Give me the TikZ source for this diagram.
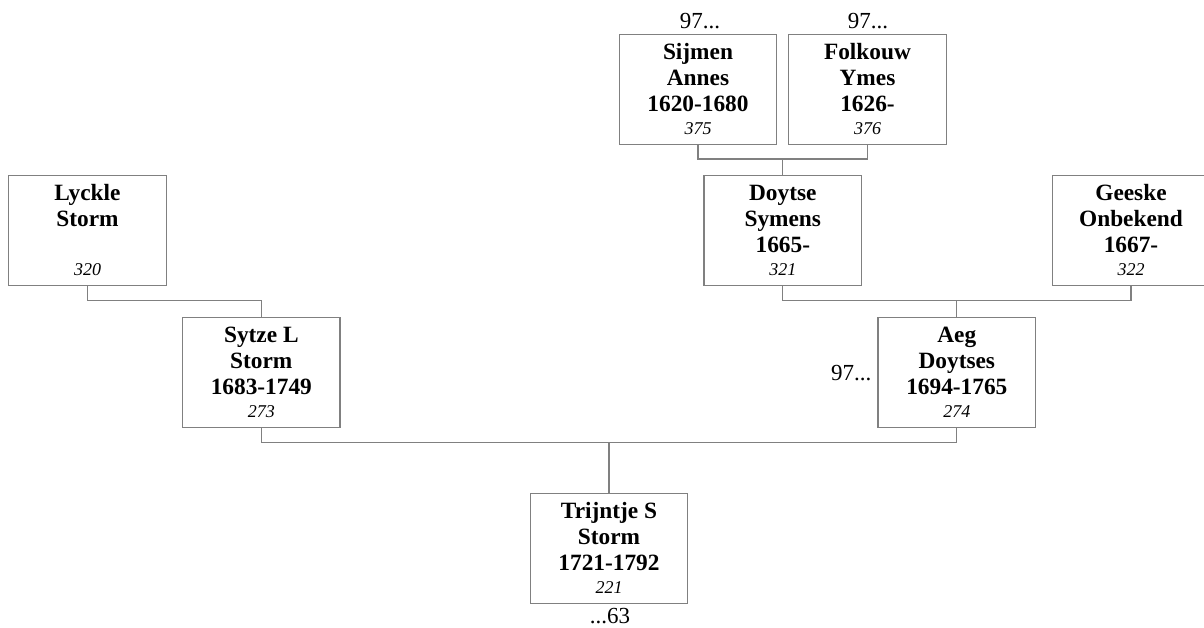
\documentclass[tikz,border=0pt]{standalone}
\usepackage{fontspec}
\setmainfont{Liberation Serif}
\usetikzlibrary{calc}
\definecolor{linegray}{RGB}{128,128,128}
\tikzset{
  personbox/.style={draw=linegray, line width=0.9pt, minimum width=118.1pt, minimum height=82.5pt, inner sep=0pt, anchor=north},
  nameline/.style={anchor=base, inner sep=0pt, font=\fontsize{17.5}{20}\selectfont\bfseries},
  numline/.style={anchor=base, inner sep=0pt, font=\fontsize{13.5}{16}\selectfont\itshape},
  refnum/.style={inner sep=0pt, font=\fontsize{17.25}{20}\selectfont},
  conn/.style={draw=linegray, line width=0.9pt},
}
\newcommand\personbox[7]{%
  \node[personbox] (#1) at (#2,#3) {};
  \node[nameline] (#1-1) at ($(#1.north)+(0,25.6)$) {#4};
  \node[nameline] (#1-2) at ($(#1.north)+(0,51.6)$) {#5};
  \if\relax\detokenize{#6}\relax\else
    \node[nameline] (#1-3) at ($(#1.north)+(0,77.3)$) {#6};
  \fi
  \node[numline] (#1-n) at ($(#1.north)+(0,100.5)$) {#7};
}
\begin{document}
\begin{tikzpicture}[x=0.75pt,y=-0.75pt]
\useasboundingbox (0,0) rectangle (1204,628);
\clip (0,0) rectangle (1204,628);

\personbox{sij}{698}{33.7}{Sijmen}{Annes}{1620-1680}{375}
\personbox{fol}{867.5}{33.7}{Folkouw}{Ymes}{1626-}{376}
\personbox{lyc}{87.5}{175}{Lyckle}{Storm}{}{320}
\personbox{doy}{782.8}{175}{Doytse}{Symens}{1665-}{321}
\personbox{gee}{1131}{175}{Geeske}{Onbekend}{1667-}{322}
\personbox{syt}{261.3}{316.7}{Sytze L}{Storm}{1683-1749}{273}
\personbox{aeg}{956.8}{316.7}{Aeg}{Doytses}{1694-1765}{274}
\personbox{tri}{609}{492.7}{Trijntje S}{Storm}{1721-1792}{221}

\node[refnum, anchor=base] (sij-ref) at (700,28) {97...};
\node[refnum, anchor=base] (fol-ref) at (868,28) {97...};
\node[refnum, anchor=base east] (aeg-ref) at (871.7,380) {97...};
\node[refnum, anchor=base] (tri-ref) at (610,623.3) {...63};

\coordinate (b1) at ($(doy.north)+(0,-16)$);
\draw[conn] (sij.south) |- (b1) -| (fol.south);
\draw[conn] (b1) -- (doy.north);
\coordinate (b2) at ($(syt.north)+(0,-16)$);
\draw[conn] (lyc.south) |- (b2) -- (syt.north);
\coordinate (b3) at ($(aeg.north)+(0,-16)$);
\draw[conn] (doy.south) |- (b3) -| (gee.south);
\draw[conn] (b3) -- (aeg.north);
\coordinate (b4) at ($(tri.north)+(0,-50)$);
\draw[conn] (syt.south) |- (b4) -| (aeg.south);
\draw[conn] (b4) -- (tri.north);
\end{tikzpicture}
\end{document}
